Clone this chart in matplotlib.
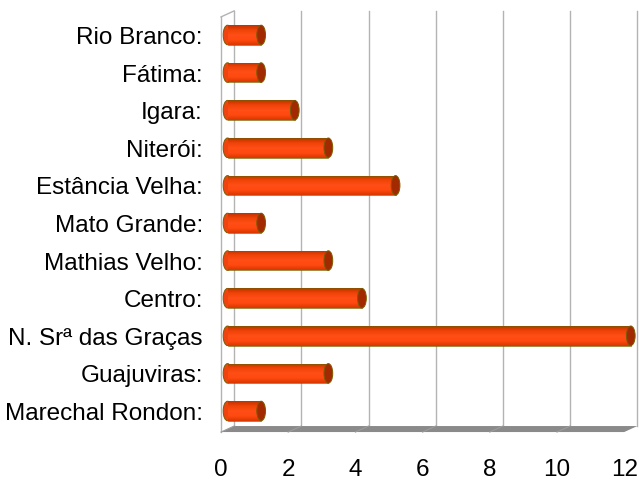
import numpy as np
import matplotlib
matplotlib.use("Agg")
import matplotlib.pyplot as plt
from matplotlib.patches import Ellipse, Polygon
from matplotlib.colors import LinearSegmentedColormap

plt.rcParams['font.family'] = ['Liberation Sans', 'DejaVu Sans']

# data, bottom to top
bairros = ["Marechal Rondon:", "Guajuviras:", "N. Srª das Graças", "Centro:",
           "Mathias Velho:", "Mato Grande:", "Estância Velha:", "Niterói:",
           "Igara:", "Fátima:", "Rio Branco:"]
valores = [1, 3, 12, 4, 3, 1, 5, 3, 2, 1, 1]
ticks = [0, 2, 4, 6, 8, 10, 12]

# fake 3d depth (in data units)
depth_x = 0.39
depth_y = 0.16
floor_y = -0.56
top_y = 10.48
bar_h = 0.52
cap_w = 0.26

fig = plt.figure(figsize=(6.39, 4.83), dpi=100)
ax = fig.add_axes([0, 0, 1, 1])
ax.axis('off')

grid_c = '#b3b3b3'
# back wall gridlines
for t in ticks:
    ax.plot([t + depth_x, t + depth_x], [floor_y + depth_y, top_y + depth_y],
            color=grid_c, lw=1, zorder=1)
# left wall
ax.plot([0, 0], [floor_y, top_y], color=grid_c, lw=1, zorder=1)
ax.plot([0, depth_x], [top_y, top_y + depth_y], color=grid_c, lw=1, zorder=1)

# floor
xmax = ticks[-1]
floor = Polygon([(0, floor_y), (xmax, floor_y), (xmax + depth_x, floor_y + depth_y),
                 (depth_x, floor_y + depth_y)], closed=True,
                facecolor='#8a8a8a', edgecolor='none', zorder=2)
ax.add_patch(floor)
for t in ticks[:-1]:
    ax.plot([t, t + depth_x], [floor_y, floor_y + depth_y], color='#9c9c9c', lw=0.8, zorder=2)

# cylinder bars
cmap = LinearSegmentedColormap.from_list('cyl', ['#d83800', '#ff4a10', '#ff4e16', '#f04408', '#c23000'])
grad = np.linspace(0, 1, 64).reshape(-1, 1)
x0 = depth_x / 2
edge_c = '#7a5c00'
for i, v in enumerate(valores):
    yc = i
    left = Ellipse((x0, yc), cap_w, bar_h, facecolor='#f04410', edgecolor=edge_c, lw=0.7, zorder=3)
    ax.add_patch(left)
    body = ax.barh(yc, v, left=x0, height=bar_h, color='none', edgecolor='none', zorder=4)[0]
    im = ax.imshow(grad, cmap=cmap, aspect='auto', extent=(x0, x0 + v, yc + bar_h / 2, yc - bar_h / 2),
                   zorder=4, interpolation='bilinear')
    im.set_clip_path(body)
    ax.plot([x0, x0 + v], [yc + bar_h / 2, yc + bar_h / 2], color=edge_c, lw=0.5, zorder=4.5)
    ax.plot([x0, x0 + v], [yc - bar_h / 2, yc - bar_h / 2], color=edge_c, lw=0.5, zorder=4.5)
    cap = Ellipse((x0 + v, yc), cap_w, bar_h, facecolor='#a32a00', edgecolor=edge_c, lw=0.7, zorder=5)
    ax.add_patch(cap)
    ax.text(-0.536, yc - 0.08, bairros[i], ha='right', va='center', fontsize=17.5, color='black')

for t in ticks:
    ax.text(t, -1.56, str(t), ha='center', va='center', fontsize=17.5, color='black')

ax.set_aspect('auto')
ax.set_xlim(-6.577, 12.44)
ax.set_ylim(-1.915, 10.93)
fig.savefig('out.png', dpi=100)
